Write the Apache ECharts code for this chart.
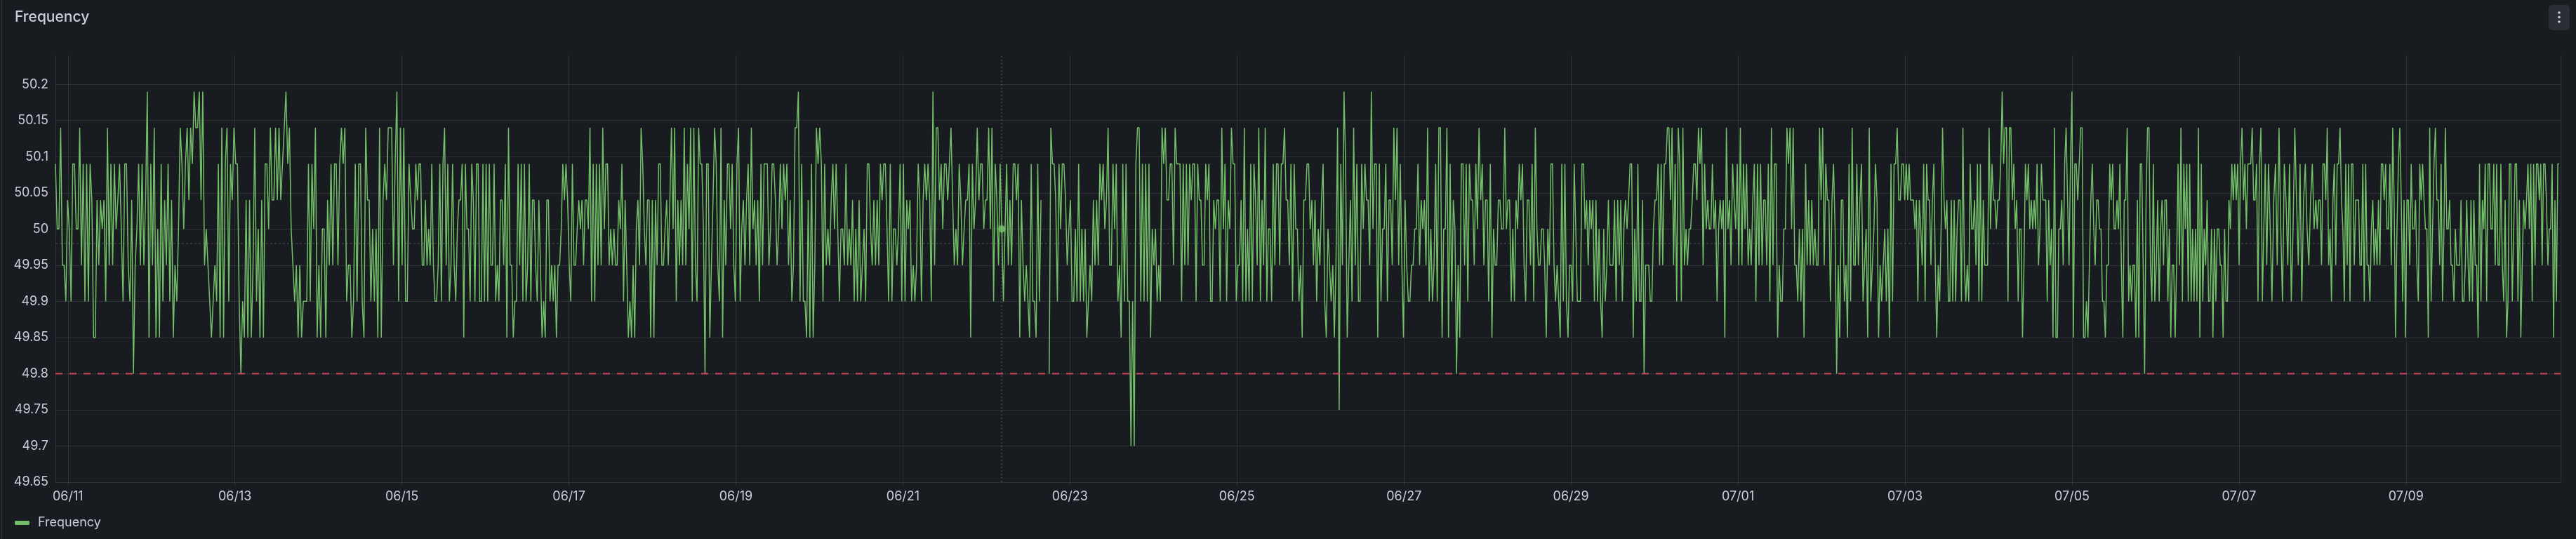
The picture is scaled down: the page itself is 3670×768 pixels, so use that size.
<!DOCTYPE html>
<html>
<head>
<meta charset="utf-8">
<title>Frequency</title>
<script src="https://cdn.jsdelivr.net/npm/echarts@6/dist/echarts.min.js"></script>
<style>
  html, body { margin: 0; padding: 0; background: #181b1f; }
  #chart { width: 3670px; height: 768px; }
</style>
</head>
<body>
<div id="chart"></div>
<script>

var freqJun10 = [
  50.09, 50.0, 50.0, 50.14, 49.95, 49.95, 49.9, 50.04, 50.0, 49.9,
  50.09, 50.09, 50.0, 50.0, 50.14, 49.95, 50.09, 49.9, 50.09, 49.9,
  50.09, 50.04, 49.85, 49.85, 50.04, 49.95, 50.04, 50.0, 50.04, 49.9,
  50.14, 49.95, 50.09, 49.95, 50.09, 50.0, 50.04, 50.09, 50.0, 49.9,
  50.09, 50.09, 49.95, 49.9, 50.04, 49.8, 49.95, 50.0, 50.09, 49.95,
  50.09, 49.95, 50.04, 50.19, 49.85, 50.09, 49.95, 50.14, 49.85, 50.0,
  49.85, 50.09, 49.9, 50.04, 49.95, 50.09, 49.9, 50.04, 49.85, 49.95,
  49.9, 50.0, 50.14, 50.09, 50.0, 50.09, 50.14, 50.04, 50.14, 50.09,
  50.19, 50.14, 50.14, 50.19, 50.04, 50.19, 49.95, 50.0, 49.95, 49.9,
  49.85, 49.9, 49.95, 49.9, 50.09, 49.85,
  50.14, 49.85, 50.09, 50.14, 49.9, 50.09, 50.04, 50.14, 50.09, 50.09,
  49.9, 49.8, 49.9, 49.85, 50.04, 49.85, 50.04, 49.85, 49.95, 50.14,
  49.9, 50.0, 49.85, 50.04, 49.85, 50.09, 50.09, 50.0, 50.14, 50.04,
  50.04, 50.14, 50.04, 50.14, 50.04, 50.09, 50.14, 50.19, 50.09, 50.14,
  50.0, 49.95, 49.9, 49.95, 49.85, 49.95, 49.85, 49.9, 49.9, 49.9,
  50.09, 49.9, 50.09, 50.0, 50.14, 49.85, 49.95, 49.85, 50.0, 50.0,
  49.85, 50.04, 49.95, 50.09, 49.95, 50.09, 50.09, 49.95, 50.09, 50.14,
  50.09, 50.14, 49.9, 49.95, 49.95, 49.85, 49.9, 50.09, 49.9, 50.09,
  50.09, 49.9, 49.85, 50.14, 50.04, 50.04, 49.9, 50.0, 49.9, 50.0,
  49.85, 50.14, 49.85, 50.04, 50.09, 50.04,
  50.14, 50.14, 50.14, 49.95, 50.09, 50.19, 49.9, 50.14, 49.95, 50.14,
  49.9, 49.9, 50.09, 50.04, 50.0
];

var freqJun15 = [
  50.0, 50.09, 50.04, 50.09, 50.09, 49.95, 49.95, 50.04, 49.95, 50.0,
  49.95, 50.09, 49.95, 49.9, 49.9, 49.95, 50.09, 49.9, 50.09, 50.14,
  49.95, 50.09, 49.9, 49.95, 50.09, 49.95, 49.9, 50.0, 50.04, 50.04,
  50.09, 49.85, 50.09, 50.0, 50.0, 49.9, 50.09, 50.04, 49.9, 50.09,
  50.09, 49.9, 49.9, 50.09, 49.9, 50.09, 49.9, 50.09, 49.95, 49.95,
  50.09, 49.9, 49.95, 49.9, 50.04, 50.04, 49.95, 50.09, 49.85, 50.14,
  49.95, 49.95, 49.85, 49.9, 49.9, 50.09, 49.95, 50.09, 49.9, 50.09,
  49.9, 49.95, 50.09, 49.9, 50.04, 50.04, 49.95, 49.9, 50.04, 49.95,
  49.85, 49.9, 49.85, 50.04, 50.04, 49.9, 49.95, 49.9, 49.95, 49.85,
  49.95, 49.95, 50.0, 50.09, 50.04, 50.09, 50.04, 49.95, 49.9, 50.09,
  49.95, 49.95, 50.0, 50.04, 50.0, 50.04, 49.95, 50.04, 50.04, 50.0,
  50.14, 49.9, 50.09, 49.9, 50.09, 49.95, 50.09, 49.95, 50.14, 50.0,
  50.09, 50.09, 49.95, 50.0, 49.95, 50.0, 49.95, 49.95, 50.04, 50.0,
  50.09, 49.9, 50.04, 49.95, 49.85, 49.9, 49.85, 49.95, 49.85, 50.0,
  50.04, 49.95, 50.14, 50.09, 50.0, 49.95, 50.04, 50.04, 49.85, 50.04,
  49.85, 50.04, 49.95, 50.09, 50.09, 49.95, 49.95, 50.0, 50.04, 49.95,
  50.04, 50.14, 50.0, 50.14, 49.9, 50.04, 49.95, 50.04, 49.95, 50.14,
  49.95, 50.09, 50.0, 50.14, 49.9, 50.14, 49.95, 49.9, 50.14, 50.09,
  50.09, 50.0, 49.8, 50.09, 50.09, 49.85, 49.95, 50.04, 50.14, 50.09,
  49.95, 49.9, 50.14, 49.85, 50.04, 49.95, 50.09, 50.09, 50.0, 50.09,
  49.95, 49.9, 50.09, 50.14, 49.9, 50.0, 50.04, 49.95, 50.04, 50.09,
  49.95, 50.14, 50.0, 50.04, 49.95, 50.04, 49.9, 50.09, 49.95, 50.09,
  50.09, 50.09, 49.95, 50.0
];

var freqJun19 = [
  50.09, 50.09, 50.04, 49.95, 50.0, 50.09, 50.0, 50.09, 50.04, 50.09,
  49.95, 50.04, 49.9, 49.95, 50.14, 50.14, 50.19, 49.9, 50.09, 49.9,
  49.9, 49.85, 50.04, 49.85, 50.09, 49.85, 49.95, 50.14, 50.09, 50.14,
  50.09, 49.9, 50.09, 49.95, 50.0, 49.95, 50.04, 50.09, 50.0, 50.09,
  50.0, 49.9, 50.0, 50.0, 49.95, 50.09, 49.95, 50.0, 49.95, 50.04,
  49.9, 50.0, 49.9, 50.04, 49.9, 49.95, 50.0, 49.9, 50.09, 50.09,
  50.0, 49.95, 50.04, 49.95, 50.04, 49.95, 50.09, 50.04, 50.09, 50.09,
  50.0, 49.9, 50.09, 49.9, 50.0, 50.0, 49.95, 50.0, 50.09, 49.9,
  50.09, 49.9, 50.04, 50.0, 50.04, 49.9, 49.95, 49.9, 49.95, 50.09,
  50.04, 49.9, 50.04, 50.09, 50.04, 50.09, 50.04, 49.9, 50.19, 49.95,
  50.14, 50.14, 50.04, 50.09, 50.0, 50.09, 50.09, 50.04, 50.09, 50.14,
  50.04, 49.95, 50.0, 49.95, 50.09, 50.04, 49.95, 50.0, 50.04, 50.04,
  50.09, 49.85, 50.09, 50.0
];

// null = gap in the recording
var freqJun21 = [
  50.04, 50.14, 50.04, 50.09, 50.09, 50.0, 50.04, 50.04, 50.14, 50.0,
  50.14, 49.9, 50.09, 50.04, 49.95, 50.09, 50.0, 49.9, 50.0, 50.09,
  49.95, 50.04, 49.95, 50.09, 50.09, 50.04, 50.09, 49.85, 50.04, 49.95,
  49.9, 49.95, 49.9, 49.85, 50.09, 49.9, 49.9, 49.85, 50.09, 49.9,
  50.04, null, null, null, null, 49.8, 50.14, 50.09, 50.09, 50.04,
  49.9, 50.09, 50.0, 50.09, 50.09, 50.04, 49.95, 50.0, 50.04, 49.9,
  49.9, 50.0, 49.9, 50.09, 49.9, 50.0, 49.9, 50.0, 49.85, 49.9,
  49.95, 49.9, 50.04, 49.95, 50.04, 49.95, 50.09, 50.04, 50.09, 50.0,
  50.04, 50.14, 49.95, 49.95, 50.09, 50.0, 50.09, 49.9, 49.95, 49.85,
  50.09, 49.9, 50.09, 49.9, 49.9, 49.7, 49.9, 49.7, 50.09, 50.14,
  50.14, 49.9, 50.09, 49.9, 50.09, 49.9, 50.09, 49.85, 50.0, 49.95,
  50.0, 49.9, 49.95, 49.9, 50.14, 50.09, 50.14, 50.04, 50.04, 50.09,
  50.09, 49.95, 50.14, 50.09
];

var freqJun24 = [
  50.09, 50.09, 49.9, 50.09, 49.95, 50.09, 49.95, 50.09, 50.04, 50.09,
  50.09, 49.9, 50.09, 50.04, 50.04, 49.95, 49.95, 50.09, 50.04, 50.09,
  49.9, 49.9, 50.04, 50.0, 50.04, 50.04, 49.9, 50.14, 50.0, 50.09,
  49.9, 50.04, 50.0, 50.14, 50.09, 50.09, 49.9, 49.95, 49.95, 50.04,
  49.9, 50.14, 49.9, 50.0, 49.9, 50.09, 49.9, 50.09, 50.04, 49.95,
  50.14, 49.9, 50.04, 49.95, 50.14, 49.9, 50.0, 50.0, 49.9, 50.09,
  49.95, 50.09, 50.09, 49.95, 50.09, 50.09, 50.14, 50.04, 50.04, 49.95,
  50.09, 49.9, 50.09, 50.0, 50.0, 49.9, 49.95, 49.85, 50.04, 50.04,
  50.09, 50.09, 50.0, 50.04, 49.95, 50.04, 49.9, 50.0, 49.95, 50.04,
  50.09, 49.9, 49.85, 50.0, 49.95, 49.9, 49.95, 49.85, 49.95, 50.14,
  49.75, 50.09, 49.95, 50.19, 50.09, 49.85, 49.95, 50.04, 49.9, 50.14,
  49.95, 50.09, 49.9, 49.9, 50.09, 50.0, 50.09, 50.04, 50.04, 49.95,
  50.19, 50.0, 50.09, 50.09, 49.85, 50.09, 49.9, 50.0, 50.0, 50.09,
  49.9, 50.04, 50.04, 49.95, 50.14, 50.04, 50.14, 49.95, 50.09, 49.95,
  49.85, 50.04, 49.95, 49.9, 49.9, 49.95, 49.95, 50.0, 50.0, 50.09,
  49.95, 50.04, 50.0, 50.04, 49.95, 50.14, 49.9, 50.0, 49.9, 49.95,
  50.09, 49.9, 50.14, 50.14, 49.85, 50.0, 50.0, 50.14, 49.85, 50.09,
  49.9, 50.04, 50.0, 49.8, 49.95, 49.85, 50.09, 50.09, 49.95, 50.09,
  49.9, 50.09, 50.04, 50.04, 49.95, 50.09, 50.0, 50.14, 50.04, 50.09,
  49.95, 50.04, 50.04, 49.9, 50.09, 49.85, 50.0, 49.95, 49.95, 50.04,
  50.04, 50.0, 50.0, 50.14, 50.0, 50.04, 50.04, 49.9, 50.0, 49.9,
  50.04, 50.0, 50.09, 50.04, 50.09, 49.95, 49.9, 50.04, 50.04, 49.95,
  50.09, 49.9, 50.14
];

var freqJun28 = [
  50.0, 49.95, 49.95, 50.0, 50.0, 49.95, 49.85, 50.0, 49.95, 50.09,
  50.09, 49.95, 49.9, 49.95, 49.9, 49.85, 50.09, 49.9, 50.09, 49.9,
  49.85, 49.95, 49.95, 49.9, 50.09, 50.0, 49.9, 49.9, 49.9, 50.09,
  50.09, 50.0, 50.04, 49.95, 50.04, 50.0, 50.04, 49.9, 50.04, 49.9,
  50.0, 49.9, 49.85, 50.0, 49.9, 49.95, 50.04, 49.95, 49.95, 49.95,
  50.04, 49.9, 50.04, 49.95, 50.04, 49.9, 50.0, 50.04, 50.0, 50.04,
  50.09, 50.09, 49.85, 50.0, 49.9, 50.09, 49.9, 49.9, 50.04, 49.8,
  49.95, 49.95, 49.95, 49.9, 49.9, 50.0, 50.04, 50.04, 50.09, 49.95,
  50.09, 49.95, 50.09, 50.09, 50.14, 50.14, 50.04, 50.14, 49.95, 50.09,
  49.9, 50.14, 50.09, 49.9, 50.14, 49.95, 50.0, 49.95, 50.0, 50.0,
  50.04, 50.09, 50.09, 50.04, 50.14, 50.09, 50.14, 49.95, 50.09, 50.0,
  50.04, 50.0, 50.0, 50.09, 50.0, 50.04, 49.9, 50.0, 50.04, 50.0,
  50.04, 49.85, 50.14, 50.0, 50.04, 49.95, 50.09, 50.04, 50.0, 50.09,
  49.95, 50.14, 49.95, 50.09, 50.0, 50.09, 49.95, 50.0, 49.95, 50.04,
  50.09, 49.9, 50.09, 49.95, 50.09, 49.95, 50.04, 50.04, 49.95, 50.09,
  49.9, 50.14, 49.95, 50.09, 50.09, 49.85, 49.95, 49.9, 49.9, 50.0,
  50.0, 50.14, 50.09, 50.14, 50.0, 50.14, 49.95, 49.95, 49.9, 50.0,
  49.9, 50.0, 49.85, 50.09, 49.95, 50.04, 49.95, 50.04, 49.95, 50.0,
  49.95, 49.95, 50.14, 50.04, 50.14, 49.95, 50.09, 50.04, 50.04, 49.9,
  50.04, 50.09, 50.0, 49.8, 49.95, 49.85, 50.04, 50.04, 49.9, 49.95,
  49.85, 50.09, 49.9, 50.14, 49.95, 49.95, 50.09, 49.95, 50.04, 50.09,
  49.9, 49.95, 50.0, 49.85, 50.14, 49.9, 49.95, 50.0, 50.09, 50.04,
  49.85, 49.95, 49.9, 49.95, 50.0, 49.9, 50.0, 49.85, 50.09, 49.9,
  50.09, 50.09, 50.14, 50.04, 50.04
];

var freqJul02 = [
  50.09, 50.09, 50.04, 50.09, 50.04, 50.09, 50.04, 50.04, 50.04, 50.0,
  50.04, 49.9, 50.04, 50.0, 49.95, 50.09, 49.9, 50.09, 50.04, 50.04,
  49.95, 50.04, 50.09, 49.95, 49.85, 49.95, 49.9, 50.0, 50.14, 50.04,
  50.0, 50.04, 49.9, 49.9, 50.04, 49.9, 50.04, 49.9, 50.0, 50.04,
  50.04, 49.9, 50.14, 49.95, 49.9, 49.95, 49.9, 50.09, 50.0, 50.0,
  50.04, 49.95, 50.09, 49.9, 50.09, 49.9, 50.04, 49.95, 49.95, 49.95,
  50.14, 50.0, 50.09, 50.04, 50.04, 50.0, 50.04, 50.04, 50.09, 50.19,
  50.09, 50.14, 50.14, 49.9, 50.14, 50.14, 50.04, 50.09, 50.0, 50.04,
  49.9, 50.0, 50.0, 49.85, 49.95, 50.09, 50.04, 50.09, 50.0, 50.04,
  50.0, 50.04, 50.0, 50.09, 49.95, 50.0, 50.09, 50.04, 50.04, 50.04,
  49.9, 50.04, 49.95, 50.0, 49.85, 50.14, 49.85, 49.85, 50.0, 50.0,
  50.04, 49.95, 50.09, 50.14, 50.04, 49.95, 50.09, 50.19, 49.85, 50.09,
  50.09, 50.04, 50.09, 50.14, 50.14, 49.85, 49.85, 49.9, 49.85, 49.95,
  50.04, 50.09, 50.0, 49.95, 50.04, 50.04, 50.0, 50.0, 49.9, 49.9,
  49.85, 49.95, 49.95, 50.09, 50.04, 50.09, 50.0, 50.0, 50.04, 50.0,
  50.09, 49.95, 49.85, 50.04, 50.04, 50.14, 49.9, 49.95, 49.9, 49.95,
  49.95, 49.85, 50.04, 49.85, 50.09, 50.09, 49.95, 49.8, 50.04, 50.14,
  50.14, 49.95, 49.9, 50.09, 49.9, 49.95, 50.04, 49.9, 50.0, 50.04,
  49.95, 50.04, 50.04, 49.9, 50.0, 49.85, 49.95, 49.95, 49.85, 49.95,
  50.09, 49.95, 50.14, 49.9, 50.09, 50.0, 50.09, 49.9, 50.09, 49.9,
  50.0, 49.9, 50.0, 49.9, 50.14, 49.85, 50.09, 49.9, 50.0, 49.95,
  50.04, 49.9, 49.9, 50.0, 49.85, 50.0, 49.9, 50.0, 50.0, 49.95,
  49.95, 49.85, 50.0, 49.9, 49.9, 50.04, 50.0, 50.09, 50.04, 50.09,
  50.04, 50.09, 49.95, 50.09, 50.14, 50.04, 50.09, 50.0, 50.09, 50.09,
  50.09, 50.14, 50.04, 50.04, 50.09, 49.9, 50.09, 50.14, 49.9, 50.0,
  50.09
];

var freqJul07 = [
  49.95, 50.09, 50.0, 49.9, 50.04, 50.09, 49.95, 50.14, 50.0, 49.9,
  50.09, 50.04, 49.95, 50.09, 49.9, 50.0, 50.14, 50.04, 49.95, 50.09,
  49.9, 50.04, 50.09, 50.0, 49.95, 50.04, 50.09, 50.0
];

var freqJul08 = [
  50.04, 50.0, 50.04, 50.04, 49.95, 50.09, 50.09, 50.04, 50.14, 49.95,
  50.0, 49.9, 50.04, 50.09, 49.95, 50.09, 50.09, 50.14, 50.04, 50.0,
  49.9, 50.09, 49.95, 50.09, 49.9, 50.09, 50.09, 49.95, 50.04, 50.04,
  50.04, 49.95, 49.95, 50.09, 49.9, 50.09, 49.95, 49.95, 49.9, 50.0,
  50.04, 49.95, 50.0, 49.95, 50.04, 49.95, 50.09, 50.09, 50.04, 50.09,
  50.0, 50.0, 50.09, 49.95, 50.14, 50.04, 49.85, 50.0, 50.09, 50.14,
  50.04, 49.9, 50.04, 49.85, 50.04, 50.04, 49.95, 50.09, 50.0, 50.0,
  50.04, 49.95, 49.9, 50.09, 50.04, 50.09, 50.04, 50.0, 50.0, 49.85,
  50.14, 49.9, 50.0, 50.09, 50.14, 50.04, 50.04, 49.95, 50.09, 49.9,
  50.0, 50.14, 50.0, 50.0, 50.04, 49.95, 49.95, 49.9, 50.0, 49.95,
  49.95, 49.95, 50.04, 49.9, 49.9, 49.95, 50.04, 49.95, 49.9, 50.04,
  49.9, 50.04, 49.95, 49.95, 49.85, 50.09, 49.9, 50.04, 50.0, 50.09,
  49.9, 50.09, 50.09, 50.0, 50.0, 50.09, 49.95, 50.09, 49.95, 49.95,
  50.09, 49.95, 49.9, 50.04, 49.85, 49.9, 50.09, 50.09, 49.9, 50.0,
  50.09, 50.09, 49.9, 50.04, 49.85, 49.95, 50.04, 50.0, 50.04, 50.09,
  50.0, 50.09, 49.9, 50.09, 49.95, 50.09, 50.09, 50.04, 50.09, 49.95,
  50.09, 50.09, 50.04, 49.95, 50.0, 50.0, 50.09, 49.85, 50.04, 49.9,
  50.09, 50.09
];

// each piece of the trace with the time span it covers
var pieces = [
  { from: '2025-06-10T20:25:00Z', to: '2025-06-15T03:32:00Z', values: freqJun10 },
  { from: '2025-06-15T03:32:00Z', to: '2025-06-19T10:24:00Z', values: freqJun15 },
  { from: '2025-06-19T10:24:00Z', to: '2025-06-21T20:53:00Z', values: freqJun19 },
  { from: '2025-06-21T20:53:00Z', to: '2025-06-24T07:10:00Z', values: freqJun21 },
  { from: '2025-06-24T07:10:00Z', to: '2025-06-28T14:13:00Z', values: freqJun24 },
  { from: '2025-06-28T14:13:00Z', to: '2025-07-02T23:06:00Z', values: freqJun28 },
  { from: '2025-07-02T23:06:00Z', to: '2025-07-07T07:58:00Z', values: freqJul02 },
  { from: '2025-07-07T07:58:00Z', to: '2025-07-07T22:05:00Z', values: freqJul07 },
  { from: '2025-07-07T22:05:00Z', to: '2025-07-10T20:27:00Z', values: freqJul08 }
];

var rangeStart = Date.parse('2025-06-10T20:25:00Z');
var rangeEnd = Date.parse('2025-07-10T20:25:00Z');

var yMin = 49.65, yMax = 50.24;
var yTicks = ['49.65', '49.7', '49.75', '49.8', '49.85', '49.9', '49.95', '50', '50.05', '50.1', '50.15', '50.2'];

var thresholdLow = 49.8;
var meanLine = 49.98;

// the hovered sample under the crosshair (piece 4, sample 17)
var hoverPiece = 3, hoverSample = 16;

var seriesData = [];
var hoverPoint = null;
pieces.forEach(function (p, pi) {
  var t0 = Date.parse(p.from);
  var step = (Date.parse(p.to) - t0) / p.values.length;
  for (var k = 0; k < p.values.length; k++) {
    var t = t0 + k * step;
    seriesData.push([t, p.values[k]]);
    if (pi === hoverPiece && k === hoverSample) hoverPoint = [t, p.values[k]];
  }
});

function pad(n) { return n < 10 ? '0' + n : '' + n; }

var textColor = '#ccccdc';
var gridColor = 'rgba(204,204,220,0.12)';
var font = 'Inter';

var myChart = echarts.init(document.getElementById('chart'), null, { renderer: 'canvas' });

var splitColors = yTicks.map(function () { return gridColor; });
splitColors.push('rgba(0,0,0,0)');

// plain two-point line series for the reference lines
var guide = function (name, pts, color, dash, width, z) {
  return {
    name: name,
    type: 'line',
    data: pts,
    silent: true,
    showSymbol: false,
    symbol: 'none',
    z: z,
    lineStyle: { color: color, type: dash, width: width },
    emphasis: { disabled: true }
  };
};

var option = {
  useUTC: true,
  backgroundColor: '#181b1f',
  animation: false,
  title: {
    text: 'Frequency',
    left: 21,
    top: 12,
    padding: 0,
    textStyle: { color: textColor, fontSize: 21, fontWeight: 500, fontFamily: font, lineHeight: 25 }
  },
  legend: {
    data: ['Frequency'],
    left: 21,
    top: 735,
    padding: 0,
    icon: 'roundRect',
    itemWidth: 21,
    itemHeight: 6,
    textStyle: { color: textColor, fontSize: 18, fontFamily: font, lineHeight: 20, padding: [0, 0, 0, 7] }
  },
  grid: { left: 79, right: 22, top: 79, bottom: 81, containLabel: false },
  xAxis: {
    type: 'time',
    min: rangeStart,
    max: rangeEnd,
    splitNumber: 15,
    axisLine: { show: false },
    axisTick: { show: true, length: 5, lineStyle: { color: gridColor } },
    splitLine: { show: true, lineStyle: { color: gridColor, width: 1 } },
    axisLabel: {
      color: textColor,
      fontSize: 18,
      fontFamily: font,
      margin: 12,
      showMinLabel: false,
      showMaxLabel: false,
      formatter: function (v) {
        var d = new Date(v);
        return pad(d.getUTCMonth() + 1) + '/' + pad(d.getUTCDate());
      }
    }
  },
  yAxis: {
    type: 'value',
    min: yMin,
    max: yMax,
    interval: 0.05,
    axisLine: { show: false },
    axisTick: { show: false },
    splitLine: { show: true, lineStyle: { color: splitColors, width: 1 } },
    axisLabel: {
      color: textColor,
      fontSize: 18,
      fontFamily: font,
      margin: 10,
      formatter: function (v) {
        var s = String(Math.round(v * 100) / 100);
        return yTicks.indexOf(s) >= 0 ? s : '';
      }
    }
  },
  graphic: [
    { type: 'line', shape: { x1: 2.5, y1: 0, x2: 2.5, y2: 768 }, style: { stroke: 'rgba(204,204,220,0.12)', lineWidth: 1 } },
    { type: 'rect', shape: { x: 3631, y: 7, width: 30, height: 36, r: 5 }, style: { fill: '#2b2e34' } },
    { type: 'circle', shape: { cx: 3646, cy: 18, r: 1.8 }, style: { fill: textColor } },
    { type: 'circle', shape: { cx: 3646, cy: 24.5, r: 1.8 }, style: { fill: textColor } },
    { type: 'circle', shape: { cx: 3646, cy: 31, r: 1.8 }, style: { fill: textColor } }
  ],
  series: [
    guide('mean', [[rangeStart, meanLine], [rangeEnd, meanLine]], 'rgba(204,204,220,0.3)', [3, 3], 1, 1),
    guide('crosshair', [[hoverPoint[0], yMin], [hoverPoint[0], yMax]], 'rgba(204,204,220,0.2)', [2, 3], 2, 1),
    {
      name: 'Frequency',
      type: 'line',
      data: seriesData,
      showSymbol: false,
      symbol: 'none',
      connectNulls: false,
      z: 2,
      color: '#73BF69',
      lineStyle: { color: '#73BF69', width: 1.5 },
      markPoint: {
        silent: true,
        symbol: 'circle',
        symbolSize: 10,
        label: { show: false },
        itemStyle: { color: '#73BF69', opacity: 0.85, shadowBlur: 10, shadowColor: 'rgba(115,191,105,0.9)' },
        data: [{ coord: hoverPoint }]
      }
    },
    guide('threshold', [[rangeStart, thresholdLow], [rangeEnd, thresholdLow]], '#d0485d', [10, 10], 2, 3)
  ]
};

myChart.setOption(option);
</script>
</body>
</html>
